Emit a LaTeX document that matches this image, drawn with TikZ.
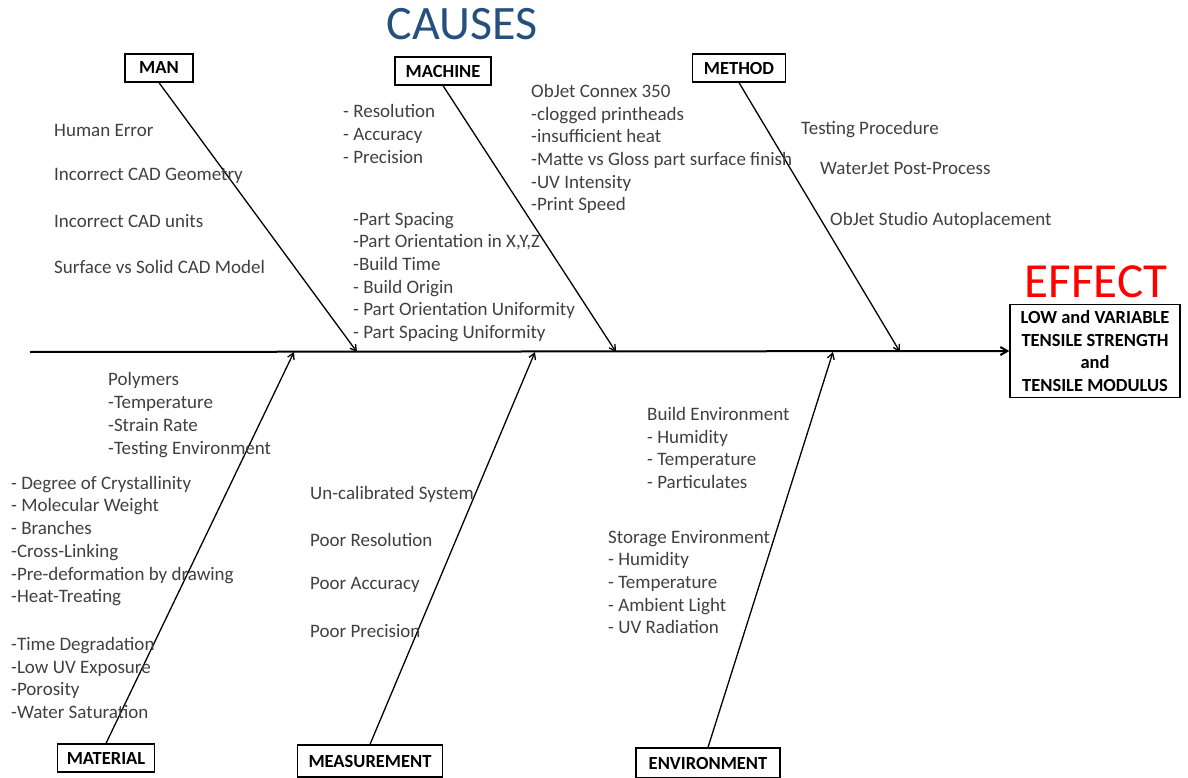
\documentclass[tikz,border=0pt]{standalone}
\usepackage{fontspec}
\setmainfont{Carlito}
\usepackage{xcolor}
\usepackage{tikz}
\usetikzlibrary{arrows.meta}
\definecolor{causeblue}{RGB}{37,79,125}
\definecolor{itemgray}{RGB}{64,64,64}

\begin{document}
\begin{tikzpicture}[
    x=1pt, y=-1pt,
    catbox/.style={rectangle, draw, line width=1.3pt, font=\bfseries\fontsize{18.5}{20}\selectfont, inner xsep=4pt, minimum height=28pt},
    effectbox/.style={rectangle, draw, line width=1.3pt, font=\bfseries\fontsize{18.5}{22.7}\selectfont, align=center, minimum width=170pt, minimum height=93pt},
    item/.style={anchor=west, inner sep=0pt, align=left, text=itemgray, font=\fontsize{19}{22.7}\selectfont},
    bone/.style={-{Straight Barb[length=6pt,width=7pt]}, line width=1.3pt},
    spine/.style={-{Straight Barb[length=7pt,width=8pt]}, line width=2pt}
]
\useasboundingbox (0,0) rectangle (1188,778);

\node[text=causeblue, font=\fontsize{48}{52}\selectfont] (causes) at (462,24) {CAUSES};
\node[text=red, font=\fontsize{49}{52}\selectfont] (effecttitle) at (1096,282) {EFFECT};

\node[catbox, minimum width=68pt] (man) at (159,68) {MAN};
\node[catbox, minimum width=96pt] (machine) at (443,71) {MACHINE};
\node[catbox, minimum width=93pt] (method) at (739,68) {METHOD};
\node[catbox, minimum width=97pt] (material) at (106,758) {MATERIAL};
\node[catbox, minimum width=145pt, minimum height=32pt] (measurement) at (370,761) {MEASUREMENT};
\node[catbox, minimum width=144pt, minimum height=30pt] (environment) at (708,763) {ENVIRONMENT};
\node[effectbox] (effect) at (1095,351) {LOW and VARIABLE\\TENSILE STRENGTH\\and\\TENSILE MODULUS};

\coordinate (tail) at (30,352);
\coordinate (manhit) at (357,352);
\coordinate (machinehit) at (616,352);
\coordinate (methodhit) at (900,352);
\coordinate (materialhit) at (294,352);
\coordinate (measurementhit) at (535,352);
\coordinate (environmenthit) at (833,352);

\draw[spine] (tail) -- (effect.west);
\draw[bone] (man.south) -- (manhit);
\draw[bone] (machine.south) -- (machinehit);
\draw[bone] (method.south) -- (methodhit);
\draw[bone] (material.north) -- (materialhit);
\draw[bone] (measurement.north) -- (measurementhit);
\draw[bone] (environment.north) -- (environmenthit);

\node[item] (humanerror) at (54,130) {Human Error};
\node[item] (cadgeom) at (54,176) {Incorrect CAD Geometry};
\node[item] (cadunits) at (54,221) {Incorrect CAD units};
\node[item] (cadmodel) at (54,267) {Surface vs Solid CAD Model};

\node[item] (printer) at (343,134) {- Resolution\\- Accuracy\\- Precision};
\node[item] (layout) at (353,277) {-Part Spacing\\-Part Orientation in X,Y,Z\\-Build Time\\- Build Origin\\- Part Orientation Uniformity\\- Part Spacing Uniformity};
\node[item] (connex) at (531,149) {ObJet Connex 350\\-clogged printheads\\-insufficient heat\\-Matte vs Gloss part surface finish\\-UV Intensity\\-Print Speed};

\node[item] (testing) at (801,130) {Testing Procedure};
\node[item] (waterjet) at (820,168) {WaterJet Post-Process};
\node[item] (autoplace) at (830,220) {ObJet Studio Autoplacement};

\node[item] (polymers) at (108,415) {Polymers\\-Temperature\\-Strain Rate\\-Testing Environment};
\node[item] (structure) at (11,541) {- Degree of Crystallinity\\- Molecular Weight\\- Branches\\-Cross-Linking\\-Pre-deformation by drawing\\-Heat-Treating};
\node[item] (aging) at (11,678) {-Time Degradation\\-Low UV Exposure\\-Porosity\\-Water Saturation};

\node[item] (uncal) at (310,494) {Un-calibrated System};
\node[item] (poorres) at (310,540) {Poor Resolution};
\node[item] (pooracc) at (310,585) {Poor Accuracy};
\node[item] (poorprec) at (310,631) {Poor Precision};

\node[item] (buildenv) at (647,448) {Build Environment\\- Humidity\\- Temperature\\- Particulates};
\node[item] (storageenv) at (608,582) {Storage Environment\\- Humidity\\- Temperature\\- Ambient Light\\- UV Radiation};

\end{tikzpicture}
\end{document}
